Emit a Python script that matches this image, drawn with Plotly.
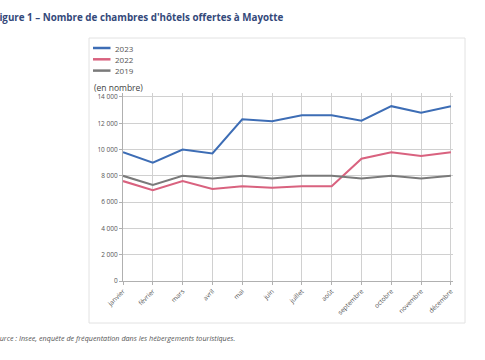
import plotly.graph_objects as go

months = ["janvier", "février", "mars", "avril", "mai", "juin", "juillet", "août",
          "septembre", "octobre", "novembre", "décembre"]
v2023 = [9800, 9000, 10000, 9700, 12300, 12150, 12600, 12600, 12200, 13300, 12800, 13300]
v2022 = [7600, 6900, 7600, 7000, 7200, 7100, 7200, 7200, 9300, 9800, 9500, 9800]
v2019 = [8000, 7300, 8000, 7800, 8000, 7800, 8000, 8000, 7800, 8000, 7800, 8000]
series = [("2023", v2023, "#3d6db5"), ("2022", v2022, "#d9627f"), ("2019", v2019, "#7a7a7a")]
y_ticks = [0, 2000, 4000, 6000, 8000, 10000, 12000, 14000]

FONT = "Open Sans"
W, H = 485, 360
ML, MR, MT, MB = 123, 32, 93, 79
PW, PH = W - ML - MR, H - MT - MB

def px(x):
    return (x - ML) / PW

def py(y):
    return (H - MB - y) / PH

fig = go.Figure()
for name, vals, col in series:
    fig.add_trace(go.Scatter(x=list(range(len(months))), y=vals, name=name, mode="lines",
                             line=dict(color=col, width=2), showlegend=False))

fig.update_layout(
    width=W, height=H,
    margin=dict(l=ML, r=MR, t=MT, b=MB, autoexpand=False),
    paper_bgcolor="white", plot_bgcolor="white",
    font=dict(family=FONT, color="#555555", size=7),
    separators=", ",
    showlegend=False,
    xaxis=dict(tickmode="array", tickvals=list(range(len(months))), ticktext=months,
               range=[0, 11.07], tickangle=-45, showgrid=True, gridcolor="#d0d0d0",
               gridwidth=1, showline=True, linecolor="#b0b0b0", ticks="outside",
               ticklen=3, tickcolor="#b0b0b0", zeroline=False, automargin=False,
               tickfont=dict(size=6.5, color="#555555")),
    yaxis=dict(tickvals=y_ticks, tickformat=",d", range=[0, 14300], showgrid=True,
               gridcolor="#d0d0d0", gridwidth=1, showline=True, linecolor="#b0b0b0",
               ticks="outside", ticklen=3, tickcolor="#b0b0b0", zeroline=False,
               automargin=False, tickfont=dict(size=6.5, color="#555555")),
)

fig.add_shape(type="rect", xref="paper", yref="paper",
              x0=px(89), x1=px(465), y0=py(323), y1=py(38),
              line=dict(color="#e2e2e2", width=1), fillcolor="rgba(0,0,0,0)", layer="below")

# legend (drawn manually to match the compact spacing)
for i, (name, vals, col) in enumerate(series):
    yy = 48 + i * 11.3
    fig.add_shape(type="line", xref="paper", yref="paper",
                  x0=px(93), x1=px(110.5), y0=py(yy), y1=py(yy),
                  line=dict(color=col, width=2.5))
    fig.add_annotation(xref="paper", yref="paper", x=px(113), y=py(yy), xanchor="left",
                       yanchor="middle", showarrow=False, text=name,
                       font=dict(family=FONT, size=8, color="#555555"))

fig.add_annotation(xref="paper", yref="paper", x=px(-8), y=py(18), xanchor="left",
                   yanchor="middle", showarrow=False,
                   text="<b>Figure 1 – Nombre de chambres d'hôtels offertes à Mayotte</b>",
                   font=dict(family=FONT, size=9.8, color="#34497a"))
fig.add_annotation(xref="paper", yref="paper", x=px(92), y=py(87), xanchor="left",
                   yanchor="middle", showarrow=False, text="(en nombre)",
                   font=dict(family=FONT, size=8.5, color="#444444"))
fig.add_annotation(xref="paper", yref="paper", x=px(-10), y=py(338), xanchor="left",
                   yanchor="middle", showarrow=False,
                   text="<i>Source : Insee, enquête de fréquentation dans les hébergements touristiques.</i>",
                   font=dict(family=FONT, size=7.2, color="#555555"))

fig.write_html("out.html", config={"displayModeBar": False},
               post_script="document.body.style.margin='0';document.body.style.overflow='hidden';")
